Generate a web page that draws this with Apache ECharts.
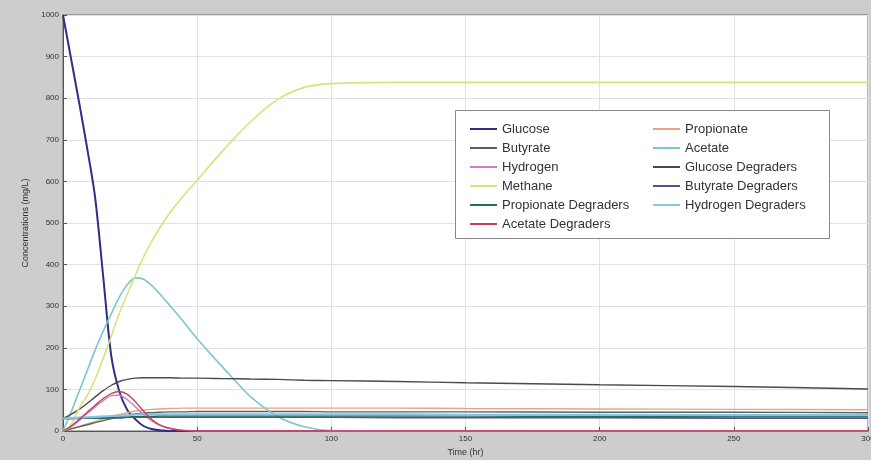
<!DOCTYPE html>
<html>
<head>
<meta charset="utf-8">
<script src="https://cdn.jsdelivr.net/npm/echarts@6/dist/echarts.min.js"></script>
<style>html,body{margin:0;padding:0;background:#cdcdcd;}#c{width:871px;height:460px;}</style>
</head>
<body>
<div id="c"></div>
<script>
var timeHr = [0,3,6,9,12,15,18,21,24,27,30,33,36,40,45,50,60,70,80,90,100,125,150,200,250,300];
var glucose      = [1000,895,790,680,560,370,180,95,50,28,12,5,2,0,0,0,0,0,0,0,0,0,0,0,0,0];
var propionate   = [0,5,11,17,23,29,35,40,44,48,50,52,53,54,55,55,55,55,55,55,55,55,54,53,52,51];
var butyrate     = [0,5,10,15,20,25,30,34,38,41,43,44,45,46,46,47,47,47,47,47,46,46,46,45,45,44];
var acetate      = [0,45,95,145,195,240,282,322,352,368,365,350,330,300,262,222,150,82,35,10,1,0,0,0,0,0];
var hydrogen     = [0,10,25,42,58,73,85,86,75,58,40,25,14,6,2,0,0,0,0,0,0,0,0,0,0,0];
var glucoseDeg   = [30,40,52,66,82,97,110,119,124,127,128,128,128,128,127,127,126,125,124,122,121,119,116,111,107,101];
var methane      = [0,15,55,85,125,175,228,283,330,375,418,455,488,526,566,603,677,744,797,826,835,838,838,838,838,838];
var butyrateDeg  = [30,30,31,31,31,32,32,32,33,33,33,33,33,33,33,33,33,33,33,33,33,32,32,32,31,31];
var propionateDeg= [30,30,30,31,31,31,32,32,33,34,35,35,36,36,36,36,36,36,36,36,36,36,36,35,35,35];
var hydrogenDeg  = [30,31,32,33,34,35,36,37,38,39,40,40,40,40,40,40,40,40,40,40,40,40,39,39,38,38];
var acetateDeg   = [0,12,28,45,62,78,90,95,88,70,48,28,15,6,1,0,0,0,0,0,0,0,0,0,0,0];

var xTicks = [0,50,100,150,200,250,300];
var yTicks = [0,100,200,300,400,500,600,700,800,900,1000];

var seriesDefs = [
  ['Glucose', glucose, '#2e2e86', 2],
  ['Propionate', propionate, '#e8a486', 1.4],
  ['Butyrate', butyrate, '#55655a', 1.4],
  ['Acetate', acetate, '#7cc6cc', 1.6],
  ['Hydrogen', hydrogen, '#cc7cc8', 1.4],
  ['Glucose Degraders', glucoseDeg, '#4a4a4a', 1.4],
  ['Methane', methane, '#d9e27a', 1.6],
  ['Butyrate Degraders', butyrateDeg, '#5c4f88', 1.6],
  ['Propionate Degraders', propionateDeg, '#2a6a62', 1.6],
  ['Hydrogen Degraders', hydrogenDeg, '#86c4e4', 2.2],
  ['Acetate Degraders', acetateDeg, '#c8405a', 1.4]
];

var series = seriesDefs.map(function(d){
  return {
    name: d[0], type: 'line', symbol: 'none', showSymbol: false, smooth: 0.3,
    lineStyle: {color: d[2], width: d[3]}, itemStyle: {color: d[2]},
    data: timeHr.map(function(t,i){ return [t, d[1][i]]; })
  };
});

var chart = echarts.init(document.getElementById('c'));
var legendText = {color:'#333', fontSize:13, lineHeight:14, fontFamily:'Liberation Sans, Arial, sans-serif'};
chart.setOption({
  backgroundColor: '#cdcdcd',
  animation: false,
  grid: {left:63, right:3, top:15, bottom:29, outerBoundsMode:'none', containLabel:false, show:true, backgroundColor:'#ffffff', borderColor:'#666', borderWidth:1},
  xAxis: {
    type:'value', min:0, max:300, interval:50,
    name:'Time (hr)', nameLocation:'middle', nameGap:13,
    nameTextStyle:{fontSize:9, color:'#333', fontFamily:'Liberation Sans, Arial, sans-serif'},
    axisLine:{show:true, lineStyle:{color:'#555'}},
    axisTick:{show:true, inside:true, length:4, lineStyle:{color:'#555'}},
    axisLabel:{fontSize:8, color:'#333', margin:4, formatter:function(v){return xTicks.indexOf(v)>=0?String(v):'';}},
    splitLine:{show:true, lineStyle:{color:'#e2e2e2', width:1}}
  },
  yAxis: {
    type:'value', min:0, max:1000, interval:100,
    name:'Concentrations (mg/L)', nameLocation:'middle', nameGap:28, nameRotate:90,
    nameTextStyle:{fontSize:9, color:'#333', fontFamily:'Liberation Sans, Arial, sans-serif'},
    axisLine:{show:true, lineStyle:{color:'#555'}},
    axisTick:{show:true, inside:true, length:4, lineStyle:{color:'#555'}},
    axisLabel:{fontSize:8, color:'#333', margin:4, formatter:function(v){return yTicks.indexOf(v)>=0?String(v):'';}},
    splitLine:{show:true, lineStyle:{color:'#e2e2e2', width:1}}
  },
  graphic: [{
    type:'rect', left:455, top:110, z:10,
    shape:{width:374, height:128},
    style:{fill:'#ffffff', stroke:'#888', lineWidth:1}
  }],
  legend: [
    {orient:'vertical', left:470, top:122, padding:0, icon:'rect', itemWidth:27, itemHeight:2, itemGap:5, z:20,
     textStyle:legendText,
     data:['Glucose','Butyrate','Hydrogen','Methane','Propionate Degraders','Acetate Degraders']},
    {orient:'vertical', left:653, top:122, padding:0, icon:'rect', itemWidth:27, itemHeight:2, itemGap:5, z:20,
     textStyle:legendText,
     data:['Propionate','Acetate','Glucose Degraders','Butyrate Degraders','Hydrogen Degraders']}
  ],
  series: series
});
</script>
</body>
</html>
